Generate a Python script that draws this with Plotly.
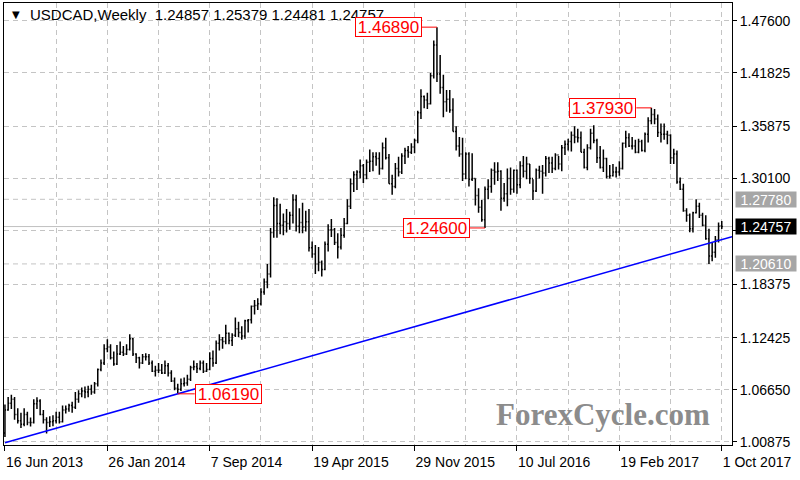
import plotly.graph_objects as go
from datetime import datetime, timedelta

# ---------------- data (weekly USDCAD bars, week starting Sunday) ----------------
first_week = "2013-06-16"

opens = [1.0185, 1.0440, 1.0515, 1.0560, 1.0390, 1.0320, 1.0280, 1.0390, 1.0300, 1.0300,
         1.0510, 1.0540, 1.0390, 1.0330, 1.0300, 1.0310, 1.0320, 1.0360, 1.0310, 1.0440,
         1.0450, 1.0490, 1.0470, 1.0560, 1.0620, 1.0650, 1.0640, 1.0670, 1.0640, 1.0730,
         1.0890, 1.0960, 1.1120, 1.1140, 1.1020, 1.0950, 1.1060, 1.1080, 1.1060, 1.1110,
         1.1230, 1.1060, 1.1020, 1.0960, 1.1030, 1.1030, 1.0960, 1.0870, 1.0880, 1.0880,
         1.0850, 1.0930, 1.0850, 1.0760, 1.0680, 1.0670, 1.0730, 1.0740, 1.0780, 1.0910,
         1.0920, 1.0900, 1.0960, 1.0870, 1.0890, 1.1010, 1.0960, 1.1180, 1.1220, 1.1200,
         1.1290, 1.1210, 1.1270, 1.1340, 1.1300, 1.1260, 1.1430, 1.1440, 1.1590, 1.1600,
         1.1620, 1.1750, 1.1860, 1.1950, 1.2410, 1.2710, 1.2510, 1.2490, 1.2530, 1.2510,
         1.2600, 1.2770, 1.2480, 1.2520, 1.2470, 1.2530, 1.2240, 1.2170, 1.2060, 1.2080,
         1.2000, 1.2280, 1.2440, 1.2440, 1.2300, 1.2250, 1.2380, 1.2510, 1.2700, 1.2950,
         1.3050, 1.3080, 1.3150, 1.3050, 1.3190, 1.3200, 1.3250, 1.3230, 1.3120, 1.3350,
         1.3240, 1.2950, 1.2920, 1.3120, 1.3080, 1.3260, 1.3320, 1.3300, 1.3360, 1.3430,
         1.3740, 1.3920, 1.3880, 1.3840, 1.4150, 1.4490, 1.4170, 1.4020, 1.3860, 1.3890,
         1.3770, 1.3530, 1.3370, 1.3280, 1.3060, 1.3280, 1.3000, 1.3010, 1.2820, 1.2690,
         1.2550, 1.2890, 1.2920, 1.3100, 1.3080, 1.3090, 1.2790, 1.2840, 1.3010, 1.2890,
         1.3100, 1.2940, 1.3150, 1.3090, 1.3170, 1.3010, 1.2870, 1.3100, 1.3090, 1.3070,
         1.3230, 1.3180, 1.3120, 1.3270, 1.3170, 1.3350, 1.3390, 1.3420, 1.3490, 1.3470,
         1.3460, 1.3300, 1.3130, 1.3350, 1.3510, 1.3430, 1.3240, 1.3130, 1.3230, 1.3030,
         1.3040, 1.3080, 1.3080, 1.3120, 1.3400, 1.3460, 1.3370, 1.3370, 1.3300, 1.3420,
         1.3320, 1.3500, 1.3650, 1.3720, 1.3670, 1.3520, 1.3500, 1.3500, 1.3490, 1.3240,
         1.3280, 1.2970, 1.2890, 1.2650, 1.2600, 1.2450, 1.2630, 1.2700, 1.2600, 1.2490,
         1.2340, 1.2150, 1.2190, 1.2330, 1.24857]

highs = [1.0500, 1.0585, 1.0610, 1.0585, 1.0460, 1.0410, 1.0460, 1.0420, 1.0355, 1.0560,
         1.0580, 1.0560, 1.0440, 1.0360, 1.0370, 1.0380, 1.0420, 1.0420, 1.0490, 1.0490,
         1.0510, 1.0530, 1.0640, 1.0660, 1.0690, 1.0700, 1.0710, 1.0720, 1.0750, 1.0900,
         1.1000, 1.1170, 1.1225, 1.1170, 1.1090, 1.1160, 1.1200, 1.1150, 1.1170, 1.1280,
         1.1240, 1.1070, 1.1030, 1.1060, 1.1070, 1.1060, 1.0990, 1.0930, 1.0960, 1.0950,
         1.0990, 1.0960, 1.0880, 1.0800, 1.0730, 1.0790, 1.0800, 1.0830, 1.0930, 1.0990,
         1.0960, 1.0990, 1.0990, 1.0960, 1.1080, 1.1100, 1.1210, 1.1280, 1.1250, 1.1385,
         1.1300, 1.1290, 1.1467, 1.1420, 1.1370, 1.1440, 1.1450, 1.1600, 1.1660, 1.1680,
         1.1790, 1.1900, 1.2060, 1.2460, 1.2800, 1.2790, 1.2730, 1.2620, 1.2670, 1.2640,
         1.2835, 1.2830, 1.2680, 1.2740, 1.2650, 1.2670, 1.2310, 1.2270, 1.2250, 1.2100,
         1.2310, 1.2500, 1.2560, 1.2460, 1.2400, 1.2460, 1.2570, 1.2780, 1.3010, 1.3090,
         1.3100, 1.3220, 1.3170, 1.3220, 1.3330, 1.3300, 1.3300, 1.3300, 1.3410, 1.3460,
         1.3280, 1.3050, 1.3180, 1.3250, 1.3290, 1.3350, 1.3370, 1.3400, 1.3450, 1.3760,
         1.4000, 1.3930, 1.3960, 1.4180, 1.4540, 1.4689, 1.4380, 1.4160, 1.3990, 1.3990,
         1.3900, 1.3590, 1.3470, 1.3460, 1.3300, 1.3300, 1.3290, 1.3010, 1.2900, 1.2770,
         1.2920, 1.3000, 1.3120, 1.3190, 1.3190, 1.3100, 1.2960, 1.3120, 1.3130, 1.3110,
         1.3110, 1.3200, 1.3260, 1.3250, 1.3170, 1.3000, 1.3120, 1.3150, 1.3160, 1.3260,
         1.3250, 1.3250, 1.3290, 1.3260, 1.3380, 1.3430, 1.3450, 1.3530, 1.3590, 1.3560,
         1.3530, 1.3340, 1.3390, 1.3560, 1.3600, 1.3450, 1.3370, 1.3330, 1.3240, 1.3160,
         1.3170, 1.3140, 1.3200, 1.3410, 1.3540, 1.3510, 1.3470, 1.3440, 1.3450, 1.3440,
         1.3520, 1.3690, 1.3793, 1.3780, 1.3720, 1.3620, 1.3620, 1.3540, 1.3500, 1.3340,
         1.3320, 1.3020, 1.2950, 1.2680, 1.2620, 1.2640, 1.2778, 1.2740, 1.2630, 1.2600,
         1.2450, 1.2300, 1.2370, 1.2520, 1.25379]

lows = [1.0140, 1.0430, 1.0450, 1.0330, 1.0290, 1.0240, 1.0260, 1.0270, 1.0255, 1.0290,
        1.0450, 1.0380, 1.0290, 1.0180, 1.0250, 1.0260, 1.0290, 1.0290, 1.0300, 1.0400,
        1.0420, 1.0410, 1.0450, 1.0520, 1.0580, 1.0570, 1.0580, 1.0610, 1.0620, 1.0700,
        1.0870, 1.0940, 1.1080, 1.1000, 1.0930, 1.0940, 1.1050, 1.1040, 1.1050, 1.1100,
        1.1040, 1.0960, 1.0900, 1.0950, 1.0990, 1.0940, 1.0860, 1.0810, 1.0850, 1.0840,
        1.0840, 1.0810, 1.0750, 1.0660, 1.0619, 1.0650, 1.0700, 1.0710, 1.0760, 1.0880,
        1.0850, 1.0880, 1.0850, 1.0860, 1.0880, 1.0920, 1.0950, 1.1100, 1.1120, 1.1170,
        1.1170, 1.1150, 1.1250, 1.1250, 1.1220, 1.1230, 1.1300, 1.1400, 1.1500, 1.1550,
        1.1600, 1.1720, 1.1790, 1.1910, 1.2350, 1.2350, 1.2390, 1.2380, 1.2410, 1.2440,
        1.2510, 1.2420, 1.2400, 1.2400, 1.2420, 1.2200, 1.2130, 1.1950, 1.1980, 1.1920,
        1.1990, 1.2200, 1.2360, 1.2270, 1.2120, 1.2220, 1.2350, 1.2500, 1.2670, 1.2860,
        1.2880, 1.3010, 1.2960, 1.3000, 1.3080, 1.3090, 1.3150, 1.3050, 1.3110, 1.3220,
        1.2950, 1.2830, 1.2900, 1.3030, 1.3060, 1.3170, 1.3240, 1.3280, 1.3290, 1.3400,
        1.3670, 1.3790, 1.3780, 1.3830, 1.4120, 1.4080, 1.3950, 1.3690, 1.3750, 1.3740,
        1.3530, 1.3320, 1.3250, 1.2980, 1.3000, 1.2920, 1.2980, 1.2710, 1.2630, 1.2530,
        1.2460, 1.2780, 1.2850, 1.2940, 1.2980, 1.2650, 1.2750, 1.2700, 1.2830, 1.2850,
        1.2840, 1.2900, 1.3020, 1.3000, 1.2950, 1.2770, 1.2860, 1.3010, 1.2840, 1.3030,
        1.3070, 1.3070, 1.3100, 1.3110, 1.3090, 1.3270, 1.3320, 1.3310, 1.3400, 1.3410,
        1.3300, 1.3120, 1.3100, 1.3330, 1.3400, 1.3180, 1.3120, 1.3080, 1.3010, 1.3010,
        1.3030, 1.3020, 1.3040, 1.3110, 1.3350, 1.3360, 1.3330, 1.3290, 1.3290, 1.3310,
        1.3300, 1.3410, 1.3610, 1.3610, 1.3470, 1.3410, 1.3440, 1.3390, 1.3170, 1.3170,
        1.2950, 1.2880, 1.2640, 1.2530, 1.2413, 1.2410, 1.2620, 1.2570, 1.2480, 1.2330,
        1.2061, 1.2090, 1.2130, 1.2300, 1.24481]

closes = [1.0440, 1.0515, 1.0560, 1.0390, 1.0320, 1.0280, 1.0390, 1.0300, 1.0300, 1.0510,
          1.0540, 1.0390, 1.0330, 1.0300, 1.0310, 1.0320, 1.0360, 1.0310, 1.0440, 1.0450,
          1.0490, 1.0470, 1.0560, 1.0620, 1.0650, 1.0640, 1.0670, 1.0640, 1.0730, 1.0890,
          1.0960, 1.1120, 1.1140, 1.1020, 1.0950, 1.1060, 1.1080, 1.1060, 1.1110, 1.1230,
          1.1060, 1.1020, 1.0960, 1.1030, 1.1030, 1.0960, 1.0870, 1.0880, 1.0880, 1.0850,
          1.0930, 1.0850, 1.0760, 1.0680, 1.0670, 1.0730, 1.0740, 1.0780, 1.0910, 1.0920,
          1.0900, 1.0960, 1.0870, 1.0890, 1.1010, 1.0960, 1.1180, 1.1220, 1.1200, 1.1290,
          1.1210, 1.1270, 1.1340, 1.1300, 1.1260, 1.1430, 1.1440, 1.1590, 1.1600, 1.1620,
          1.1750, 1.1860, 1.1950, 1.2410, 1.2710, 1.2510, 1.2490, 1.2530, 1.2510, 1.2600,
          1.2770, 1.2480, 1.2520, 1.2470, 1.2530, 1.2240, 1.2170, 1.2060, 1.2080, 1.2000,
          1.2280, 1.2440, 1.2440, 1.2300, 1.2250, 1.2380, 1.2510, 1.2700, 1.2950, 1.3050,
          1.3080, 1.3150, 1.3050, 1.3190, 1.3200, 1.3250, 1.3230, 1.3120, 1.3350, 1.3240,
          1.2950, 1.2920, 1.3120, 1.3080, 1.3260, 1.3320, 1.3300, 1.3360, 1.3430, 1.3740,
          1.3920, 1.3880, 1.3840, 1.4150, 1.4490, 1.4170, 1.4020, 1.3860, 1.3890, 1.3770,
          1.3530, 1.3370, 1.3280, 1.3060, 1.3280, 1.3000, 1.3010, 1.2820, 1.2690, 1.2550,
          1.2890, 1.2920, 1.3100, 1.3080, 1.3090, 1.2790, 1.2840, 1.3010, 1.2890, 1.3100,
          1.2940, 1.3150, 1.3090, 1.3170, 1.3010, 1.2870, 1.3100, 1.3090, 1.3070, 1.3230,
          1.3180, 1.3120, 1.3270, 1.3170, 1.3350, 1.3390, 1.3420, 1.3490, 1.3470, 1.3460,
          1.3300, 1.3130, 1.3350, 1.3510, 1.3430, 1.3240, 1.3130, 1.3230, 1.3030, 1.3040,
          1.3080, 1.3080, 1.3120, 1.3400, 1.3460, 1.3370, 1.3370, 1.3300, 1.3420, 1.3320,
          1.3500, 1.3650, 1.3720, 1.3670, 1.3520, 1.3500, 1.3500, 1.3490, 1.3240, 1.3280,
          1.2970, 1.2890, 1.2650, 1.2600, 1.2450, 1.2630, 1.2700, 1.2600, 1.2490, 1.2340,
          1.2150, 1.2190, 1.2330, 1.2480, 1.24757]

# axis ticks (the 1.24325 level sits under the current-price box)
y_ticks = [1.00875, 1.06650, 1.12425, 1.18375, 1.24325, 1.30100, 1.35875, 1.41825, 1.47600]
y_tick_labels = ["1.00875", "1.06650", "1.12425", "1.18375", "",
                 "1.30100", "1.35875", "1.41825", "1.47600"]
x_tick_dates = ["2013-06-16", "2014-01-26", "2014-09-07", "2015-04-19",
                "2015-11-29", "2016-07-10", "2017-02-19", "2017-10-01"]
x_tick_labels = ["16 Jun 2013", "26 Jan 2014", "7 Sep 2014", "19 Apr 2015",
                 "29 Nov 2015", "10 Jul 2016", "19 Feb 2017", "1 Oct 2017"]

# marked highs / lows
mark_prices = [1.46890, 1.37930, 1.24600, 1.06190]
mark_labels = ["1.46890", "1.37930", "1.24600", "1.06190"]
mark_weeks = ["2016-01-17", "2017-04-30", "2016-05-01", "2014-06-29"]
mark_sides = ["left", "left", "left", "right"]

# horizontal levels
level_prices = [1.27780, 1.20610]
level_labels = ["1.27780", "1.20610"]
last_price = 1.24757
last_label = "1.24757"

# trend line anchors
trend_start = ("2013-06-16", 1.0075)
trend_anchor = ("2014-06-29", 1.0619)

title_text = "USDCAD,Weekly\u00a0\u00a01.24857 1.25379 1.24481 1.24757"

# ---------------- figure ----------------
start = datetime.strptime(first_week, "%Y-%m-%d")


def wk(i):
    return start + timedelta(days=7 * i)


def ds(d):
    return d.strftime("%Y-%m-%d %H:%M:%S")


dates = [ds(wk(i)) for i in range(len(closes))]
grid_dates = [ds(wk(i)) for i in range(0, len(closes), 16)]

FONT = "Liberation Sans"
GRID = "#c4c4c4"
DASH = "5px,4px"

fig = go.Figure(go.Ohlc(
    x=dates, open=opens, high=highs, low=lows, close=closes,
    increasing=dict(line=dict(color="black", width=1.5)),
    decreasing=dict(line=dict(color="black", width=1.5)),
    tickwidth=0.35, hoverinfo="skip", showlegend=False,
))

x_lo, x_hi = wk(-0.3), wk(227.2)
y_lo, y_hi = 1.0051, 1.4957

shapes = []
for p in level_prices:
    shapes.append(dict(type="line", xref="paper", x0=0, x1=1, yref="y", y0=p, y1=p,
                       line=dict(color=GRID, width=1, dash=DASH), layer="below"))
shapes.append(dict(type="line", xref="paper", x0=0, x1=1, yref="y", y0=last_price, y1=last_price,
                   line=dict(color="#c0c0c0", width=1), layer="below"))

# trend line (extended to the right edge)
t0 = datetime.strptime(trend_start[0], "%Y-%m-%d")
t1 = datetime.strptime(trend_anchor[0], "%Y-%m-%d")
slope = (trend_anchor[1] - trend_start[1]) / (t1 - t0).days
end_price = trend_start[1] + slope * (x_hi - t0).total_seconds() / 86400
shapes.append(dict(type="line", xref="x", yref="y", x0=ds(t0), y0=trend_start[1],
                   x1=ds(x_hi), y1=end_price, line=dict(color="#0000ff", width=1.5)))

annotations = []
annotations.append(dict(x=0.0085, y=0.973, xref="paper", yref="paper", text="\u25bc",
                        showarrow=False, xanchor="left", yanchor="middle",
                        font=dict(family="DejaVu Sans", size=10, color="black")))
annotations.append(dict(x=0.0330, y=0.973, xref="paper", yref="paper", text=title_text,
                        showarrow=False, xanchor="left", yanchor="middle",
                        font=dict(family=FONT, size=15, color="black")))

for p, lab, w, side in zip(mark_prices, mark_labels, mark_weeks, mark_sides):
    bar = datetime.strptime(w, "%Y-%m-%d")
    if side == "left":
        edge = bar - timedelta(days=7 * 4.7)
        xanchor = "right"
    else:
        edge = bar + timedelta(days=7 * 5.3)
        xanchor = "left"
    shapes.append(dict(type="line", xref="x", yref="y", x0=ds(edge), x1=ds(bar), y0=p, y1=p,
                       line=dict(color="#ff0000", width=1)))
    annotations.append(dict(x=ds(edge), y=p, xref="x", yref="y", text=lab, showarrow=False,
                            xanchor=xanchor, yanchor="middle", bgcolor="white",
                            bordercolor="#ff0000", borderwidth=1, borderpad=1,
                            width=63, height=16,
                            font=dict(family=FONT, size=17, color="#ff0000")))

for p, lab in zip(level_prices, level_labels):
    annotations.append(dict(x=1.004, y=p, xref="paper", yref="y", text=lab, showarrow=False,
                            xanchor="left", yanchor="middle", bgcolor="#a6a6a6",
                            width=58, height=13, borderpad=1, align="center",
                            font=dict(family=FONT, size=14, color="white")))
annotations.append(dict(x=1.004, y=last_price, xref="paper", yref="y", text=last_label,
                        showarrow=False, xanchor="left", yanchor="middle", bgcolor="black",
                        width=58, height=13, borderpad=1, align="center",
                        font=dict(family=FONT, size=14, color="white")))

annotations.append(dict(x=0.6735, y=0.070, xref="paper", yref="paper", text="ForexCycle.com",
                        showarrow=False, xanchor="left", yanchor="middle",
                        font=dict(family="Liberation Serif", size=31, color="#8c8c8c",
                                  weight="bold")))

fig.update_layout(
    width=800, height=480,
    margin=dict(l=4, r=68, t=3, b=35, autoexpand=False),
    paper_bgcolor="white", plot_bgcolor="white",
    showlegend=False,
    shapes=shapes, annotations=annotations,
    xaxis=dict(
        type="date", range=[ds(x_lo), ds(x_hi)], automargin=False,
        rangeslider=dict(visible=False),
        tickmode="array", tickvals=[d + " 00:00:00" for d in x_tick_dates], ticktext=x_tick_labels,
        ticks="outside", ticklen=5, tickcolor="black",
        ticklabelposition="outside right", ticklabelstandoff=4,
        tickfont=dict(family=FONT, size=14, color="black"),
        showgrid=True, gridcolor=GRID, griddash=DASH, gridwidth=1,
        minor=dict(tickmode="array", tickvals=grid_dates, showgrid=True,
                   gridcolor=GRID, griddash=DASH, ticks=""),
        showline=True, linecolor="black", linewidth=1, mirror=True,
        zeroline=False,
    ),
    yaxis=dict(
        side="right", range=[y_lo, y_hi], automargin=False,
        tickmode="array", tickvals=y_ticks, ticktext=y_tick_labels,
        ticks="outside", ticklen=4, tickcolor="black",
        tickfont=dict(family=FONT, size=14, color="black"),
        showgrid=True, gridcolor=GRID, griddash=DASH, gridwidth=1,
        showline=True, linecolor="black", linewidth=1, mirror=True,
        zeroline=False,
    ),
)

fig.write_html("out.html", config={"displayModeBar": False},
               post_script="document.body.style.margin='0px';document.body.style.overflow='hidden';")
